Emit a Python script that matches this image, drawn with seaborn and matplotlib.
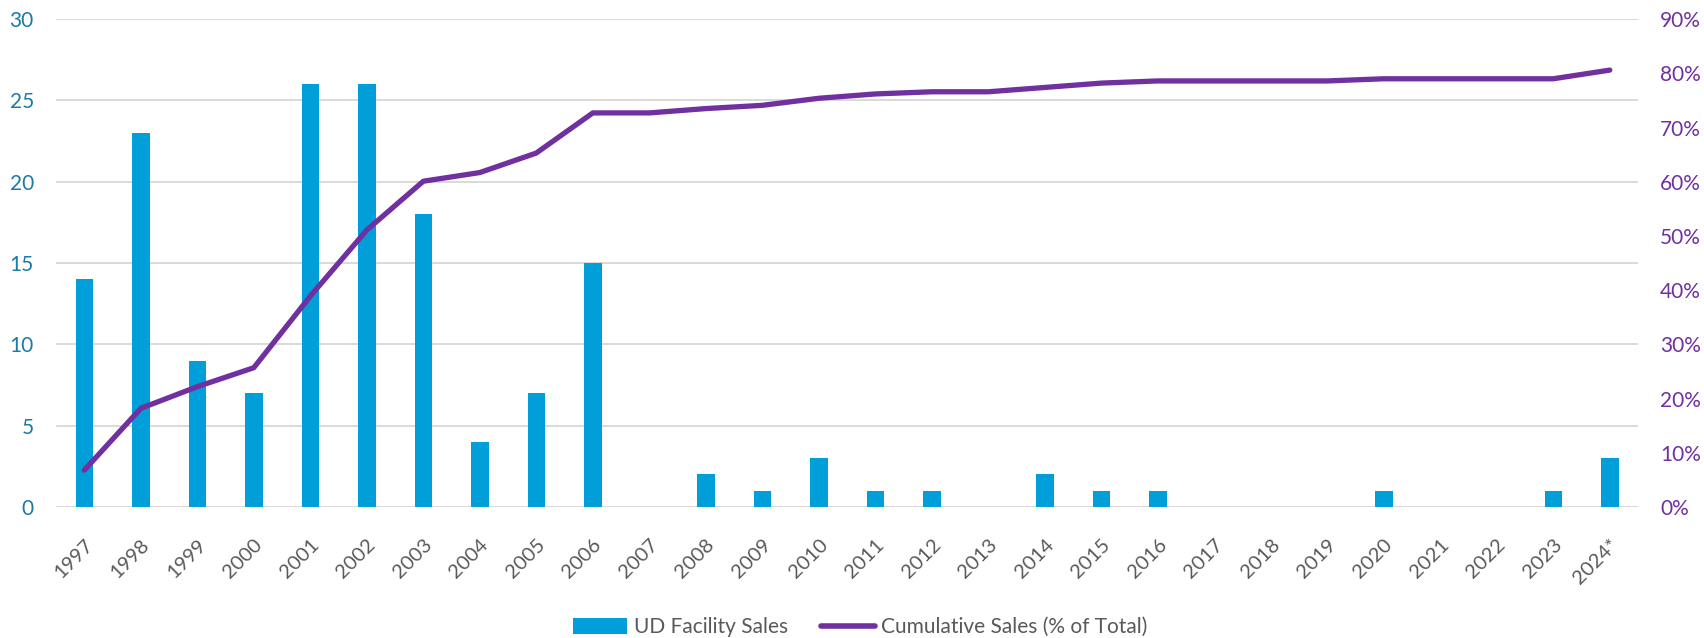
import numpy as np
import pandas as pd
import matplotlib
matplotlib.use("Agg")
import matplotlib.pyplot as plt
import seaborn as sns
from matplotlib.ticker import FuncFormatter
from matplotlib.patches import Patch
from matplotlib.lines import Line2D

# data
years = ["1997", "1998", "1999", "2000", "2001", "2002", "2003", "2004", "2005", "2006",
         "2007", "2008", "2009", "2010", "2011", "2012", "2013", "2014", "2015", "2016",
         "2017", "2018", "2019", "2020", "2021", "2022", "2023", "2024*"]
sales = [14, 23, 9, 7, 26, 26, 18, 4, 7, 15,
         0, 2, 1, 3, 1, 1, 0, 2, 1, 1,
         0, 0, 0, 1, 0, 0, 1, 3]
cum_pct = [6.8, 18.2, 22.2, 25.7, 38.9, 51.1, 60.1, 61.7, 65.3, 72.7,
           72.7, 73.5, 74.1, 75.4, 76.2, 76.6, 76.6, 77.4, 78.2, 78.6,
           78.6, 78.6, 78.6, 79.0, 79.0, 79.0, 79.0, 80.6]

df = pd.DataFrame({"year": years, "sales": sales, "cum": cum_pct})

bar_color = "#009FDA"
line_color = "#7030A0"
grid_color = "#D9D9D9"
left_lbl = "#1A7AA8"
grey_txt = "#595959"

sns.set_theme(style="white")
plt.rcParams["font.family"] = ["Lato", "DejaVu Sans"]

fig = plt.figure(figsize=(17.04, 6.38), dpi=100)
ax = fig.add_axes([0.0329, 0.2053, 0.9284, 0.7647])

#Bars
sns.barplot(data=df, x="year", y="sales", color=bar_color, width=0.31,
            saturation=1, linewidth=0, ax=ax, zorder=3)
ax.set_ylim(0, 30)
ax.set_yticks(range(0, 31, 5))
ax.set_xlim(-0.5, len(years) - 0.5)
ax.yaxis.grid(True, color=grid_color, linewidth=1.4, zorder=0)
ax.set_axisbelow(True)
ax.tick_params(axis="y", length=0, pad=16, labelsize=15, labelcolor=left_lbl)
ax.tick_params(axis="x", length=0, pad=21, labelsize=14.5, labelcolor=grey_txt)
for lbl in ax.get_xticklabels():
    lbl.set_rotation(45)
    lbl.set_ha("right")
    lbl.set_rotation_mode("anchor")
ax.set_xlabel("")
ax.set_ylabel("")
for s in ax.spines.values():
    s.set_visible(False)

#Cumulative line
ax2 = ax.twinx()
sns.lineplot(data=df, x="year", y="cum", color=line_color, linewidth=3.8,
             sort=False, ax=ax2, solid_capstyle="round")
ax2.set_ylim(0, 90)
ax2.set_yticks(range(0, 91, 10))
ax2.yaxis.set_major_formatter(FuncFormatter(lambda v, p: f"{v:.0f}%"))
ax2.tick_params(axis="y", length=0, pad=16, labelsize=15, labelcolor=line_color)
ax2.set_ylabel("")
ax2.grid(False)
for s in ax2.spines.values():
    s.set_visible(False)

#Legend
handles = [Patch(facecolor=bar_color, edgecolor="none"),
           Line2D([0], [0], color=line_color, linewidth=4, solid_capstyle="round")]
fig.legend(handles, ["UD Facility Sales", "Cumulative Sales (% of Total)"],
           loc="center", bbox_to_anchor=(0.505, 0.017), ncol=2, frameon=False,
           fontsize=15, labelcolor=grey_txt, handlelength=2.6, handleheight=0.75,
           handletextpad=0.3, columnspacing=1.6)

fig.savefig("out.png", dpi=100)
